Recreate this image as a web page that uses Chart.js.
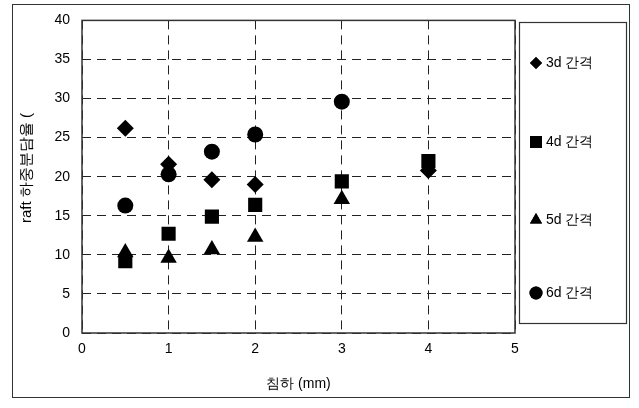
<!DOCTYPE html>
<html><head><meta charset="utf-8">
<script src="https://cdn.jsdelivr.net/npm/chart.js@4/dist/chart.umd.min.js"></script>
<style>html,body{margin:0;padding:0;background:#fff}#c{display:block}</style>
</head><body>
<canvas id="c" width="639" height="408"></canvas>
<script>
const seriesNames = ['3d 간격','4d 간격','5d 간격','6d 간격'];
const x3d = [0.5, 1, 1.5, 2, 4];
const y3d = [26.2, 21.6, 19.6, 19.0, 20.8];
const x4d = [0.5, 1, 1.5, 2, 3, 4];
const y4d = [9.2, 12.7, 14.9, 16.4, 19.4, 22.0];
const x5d = [0.5, 1, 1.5, 2, 3];
const y5d = [10.3, 9.6, 10.7, 12.3, 17.1];
const x6d = [0.5, 1, 1.5, 2, 3];
const y6d = [16.3, 20.3, 23.2, 25.4, 29.6];
const xTicks = [0,1,2,3,4,5];
const yTicks = [0,5,10,15,20,25,30,35,40];
const xTitle = '침하 (mm)';
const yTitle = 'raft 하중분담율 (';

const pts = (xs, ys) => xs.map((x,i)=>({x, y: ys[i]}));
const styles = [
  {pointStyle:'rectRot', radius:8.5, legendR:6},
  {pointStyle:'rect', radius:10, legendR:8.5},
  {pointStyle:'triangle', radius:9.5, legendR:7},
  {pointStyle:'circle', radius:8, legendR:6.5}
];
const dataArr = [pts(x3d,y3d), pts(x4d,y4d), pts(x5d,y5d), pts(x6d,y6d)];
const FONT = "'Liberation Sans', Arial, sans-serif";

const framePlugin = {
  id:'frame',
  beforeDraw(chart){
    const c = chart.ctx;
    c.save();
    c.fillStyle='#fff'; c.fillRect(0,0,chart.width,chart.height);
    c.strokeStyle='#333'; c.lineWidth=1;
    c.strokeRect(12.5,4.5,617,393);
    // y title
    c.translate(27, 168);
    c.rotate(-Math.PI/2);
    c.font = "15px " + FONT;
    c.fillStyle = '#000';
    c.textAlign='center'; c.textBaseline='middle';
    c.fillText(yTitle, 0, 0);
    c.restore();
  },
  afterDatasetsDraw(chart){
    const c = chart.ctx, a = chart.chartArea;
    c.save();
    c.strokeStyle='#333'; c.lineWidth=1.5;
    c.strokeRect(a.left, a.top, a.right-a.left, a.bottom-a.top);
    // legend box
    c.lineWidth=1.2;
    c.strokeRect(519.5, 22.5, 107, 301);
    const ys = [63,142,220,293];
    c.font = "14px " + FONT;
    c.textBaseline='middle';
    c.fillStyle='#000';
    chart.data.datasets.forEach((ds,i)=>{
      Chart.helpers.drawPoint(c, {pointStyle: ds.pointStyle, radius: styles[i].legendR, borderWidth:0}, 536, ys[i]);
      c.fill();
      c.fillText(ds.label, 546, ys[i]);
    });
    c.restore();
  }
};

new Chart(document.getElementById('c'), {
  type:'scatter',
  data:{
    datasets: dataArr.map((d,i)=>({
      label: seriesNames[i], data:d,
      pointStyle: styles[i].pointStyle, pointRadius: styles[i].radius, pointHoverRadius: styles[i].radius,
      backgroundColor:'#000', borderColor:'#000', borderWidth:0
    }))
  },
  options:{
    responsive:false, animation:false, devicePixelRatio:1,
    layout:{padding:{left:14, right:124, top:20, bottom:0}},
    plugins:{legend:{display:false}, tooltip:{enabled:false}},
    scales:{
      x:{
        type:'linear', min:0, max:5,
        afterBuildTicks(s){ s.ticks = xTicks.map(v=>({value:v})); },
        grid:{color:'#222', lineWidth:1, drawTicks:false},
        border:{display:false, dash:[9,6]},
        ticks:{color:'#000', font:{family:FONT, size:14}, padding:8},
        title:{display:true, text:xTitle, color:'#000', font:{family:FONT, size:14}, padding:{top:4, bottom:15}},
        afterFit(s){ s.height = 75; }
      },
      y:{
        type:'linear', min:0, max:40,
        afterBuildTicks(s){ s.ticks = yTicks.map(v=>({value:v})); },
        grid:{color:'#222', lineWidth:1, drawTicks:false},
        border:{display:false, dash:[9,6]},
        ticks:{color:'#000', font:{family:FONT, size:14}, padding:12},
        title:{display:false},
        afterFit(s){ s.width = 68; }
      }
    }
  },
  plugins:[framePlugin]
});
</script>
</body></html>
